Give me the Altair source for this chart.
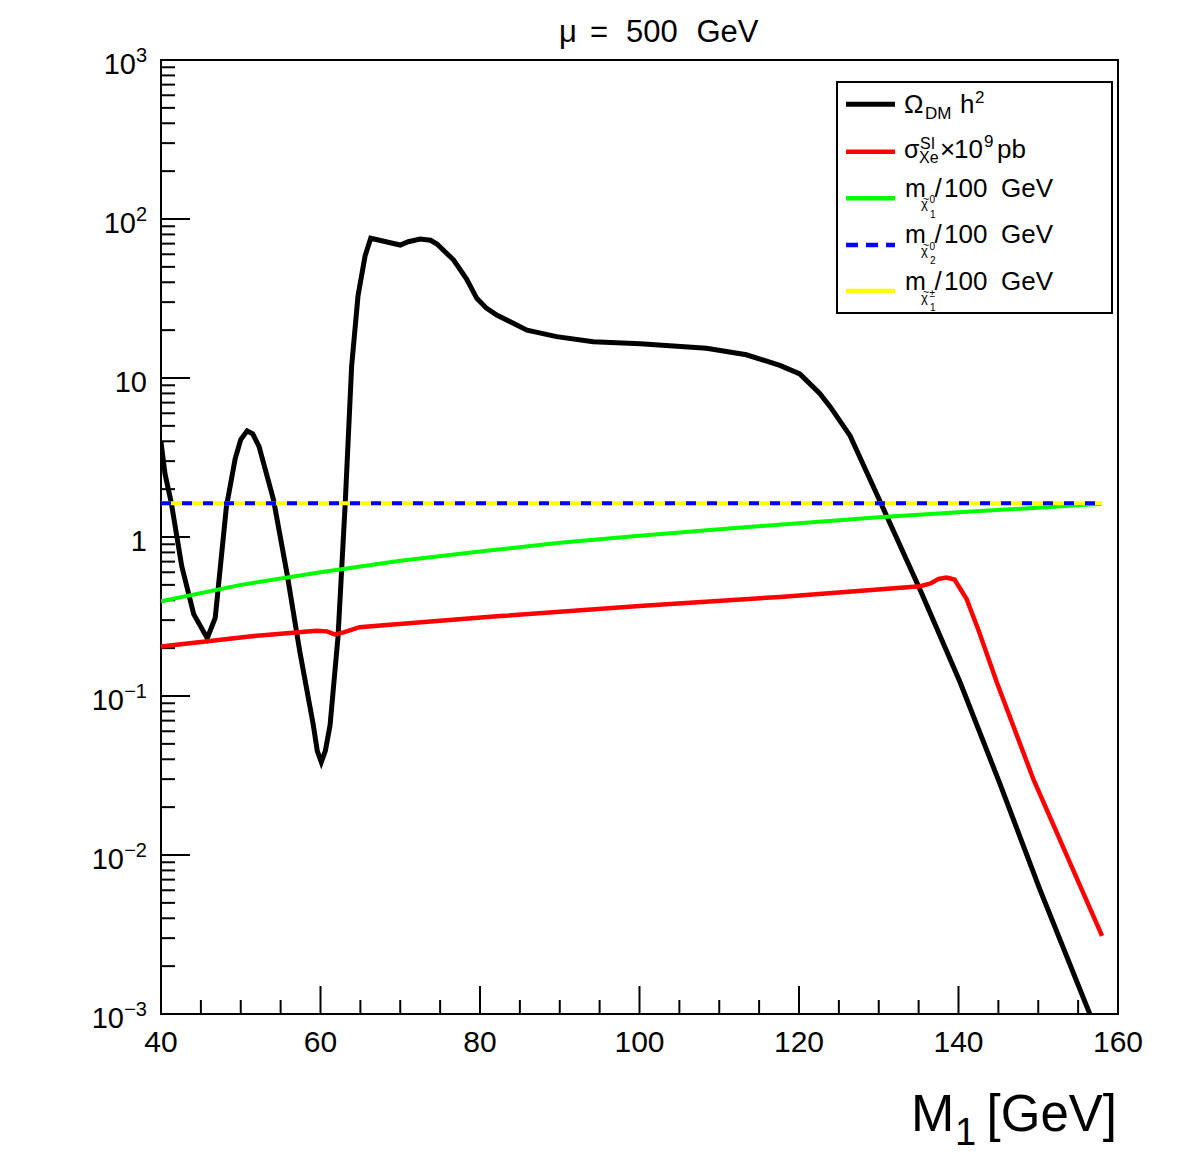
import altair as alt
import pandas as pd

# ---------------- data ----------------
# Omega_DM h^2  (black)
om_m1 = [40.0, 40.5, 41.3, 42.6, 44.1, 45.8, 46.8, 48.2, 49.3, 50.0,
         50.8, 51.5, 52.3, 54.1, 55.8, 57.4, 59.1, 59.6, 60.1, 60.6,
         61.2, 62.2, 63.1, 63.9, 64.7, 65.6, 66.3, 70.0, 71.0, 72.5,
         73.8, 74.6, 76.7, 78.3, 79.6, 80.8, 82.1, 85.9, 89.6, 94.2,
         100.1, 108.4, 113.4, 117.6, 120.1, 122.6, 123.9, 126.4, 130.2, 135.2,
         140.2, 145.2, 150.2, 156.5, 158.0]
om_val = [3.95, 2.5, 1.63, 0.656, 0.327, 0.231, 0.31, 1.55, 3.1, 4.1,
          4.65, 4.45, 3.7, 1.72, 0.59, 0.191, 0.0656, 0.045, 0.0384, 0.045,
          0.0656, 0.237, 1.63, 11.8, 32.7, 58.9, 75.6, 68.6, 72.0, 74.8,
          73.5, 69.6, 55.2, 42.0, 31.7, 27.5, 24.9, 20.0, 18.2, 16.9,
          16.4, 15.4, 14.0, 12.0, 10.6, 8.0, 6.6, 4.34, 1.66, 0.464,
          0.122, 0.028, 0.00607, 0.00099, 0.00065]

# sigma_SI x 1e9 pb  (red)
si_m1 = [40.0, 51.1, 59.5, 60.8, 61.8, 63.0, 64.9, 67.9, 82.5, 100.0,
         117.6, 135.2, 136.5, 137.5, 138.5, 139.5, 141.0, 142.5, 144.8, 149.4,
         154.0, 158.0]
si_val = [0.205, 0.237, 0.257, 0.255, 0.244, 0.252, 0.271, 0.279, 0.318, 0.368,
          0.42, 0.49, 0.51, 0.545, 0.556, 0.54, 0.409, 0.26, 0.122, 0.0299,
          0.0089, 0.0031]

# m_chi1 / 100 GeV  (green)
n1_m1 = [40, 50, 60, 70, 80, 90, 100, 110, 120, 130, 140, 150, 158]
n1_val = [0.394, 0.50, 0.60, 0.71, 0.81, 0.92, 1.02, 1.12, 1.22, 1.33, 1.43, 1.53, 1.62]

# m_chi2 / 100 GeV  (blue dashed)
n2_m1 = [40, 158]
n2_val = [1.63, 1.63]

# m_chargino / 100 GeV  (yellow)
c1_m1 = [40, 158]
c1_val = [1.63, 1.63]

x_major = [40, 60, 80, 100, 120, 140, 160]
x_labels = ["40", "60", "80", "100", "120", "140", "160"]
x_minor = [v for v in range(40, 161, 5) if v % 20 != 0]

y_major = [1e-3, 1e-2, 1e-1, 1, 10, 100, 1000]
y_base = ["10", "10", "10", "1", "10", "10", "10"]
y_exp = ["\u22123", "\u22122", "\u22121", "", "", "2", "3"]
y_minor = [k * 10.0 ** n for n in range(-3, 3) for k in range(2, 10)]

# ---------------- layout ----------------
W, H = 957, 954
FONT = "Liberation Sans"
xs = alt.Scale(domain=[40, 160], nice=False, zero=False)
ys = alt.Scale(type="log", domain=[1e-3, 1e3], nice=False)
one = pd.DataFrame({"k": [0]})


def series(xv, yv, color, width, dash=None):
    df = pd.DataFrame({"M1": xv, "v": yv})
    kw = dict(color=color, strokeWidth=width, clip=True)
    if dash:
        kw["strokeDash"] = dash
    return alt.Chart(df).mark_line(**kw).encode(
        x=alt.X("M1:Q", scale=xs, axis=None),
        y=alt.Y("v:Q", scale=ys, axis=None),
        order=alt.Order("M1:Q"),
    )


def txt(s, x, y, size, align="left", font=FONT):
    return alt.Chart(one).mark_text(
        text=s, align=align, baseline="alphabetic", fontSize=size, font=font, color="black"
    ).encode(x=alt.value(x), y=alt.value(y))


layers = []

# ticks (inward, ROOT style)
ymaj = pd.DataFrame({"t": y_major})
ymin = pd.DataFrame({"t": y_minor})
xmaj = pd.DataFrame({"t": x_major, "lab": x_labels})
xmin = pd.DataFrame({"t": x_minor})
layers.append(alt.Chart(ymaj).mark_rule(color="black", strokeWidth=2).encode(
    y=alt.Y("t:Q", scale=ys, axis=None), x=alt.value(0), x2=alt.value(29)))
layers.append(alt.Chart(ymin).mark_rule(color="black", strokeWidth=2).encode(
    y=alt.Y("t:Q", scale=ys, axis=None), x=alt.value(0), x2=alt.value(14)))
layers.append(alt.Chart(xmaj).mark_rule(color="black", strokeWidth=2).encode(
    x=alt.X("t:Q", scale=xs, axis=None), y=alt.value(H), y2=alt.value(H - 28)))
layers.append(alt.Chart(xmin).mark_rule(color="black", strokeWidth=2).encode(
    x=alt.X("t:Q", scale=xs, axis=None), y=alt.value(H), y2=alt.value(H - 14)))

# x tick labels
layers.append(alt.Chart(xmaj).mark_text(
    align="center", baseline="alphabetic", fontSize=30, font=FONT, color="black"
).encode(x=alt.X("t:Q", scale=xs, axis=None), y=alt.value(H + 38), text="lab:N"))

# y tick labels: base "10"/"1" and superscript exponent
ylab = pd.DataFrame({"t": y_major, "base": y_base, "exp": y_exp})
ylab["n"] = ylab["exp"].str.len()
for n, xr in [(0, -14), (1, -25), (2, -37)]:
    sub = ylab[ylab["n"] == n]
    layers.append(alt.Chart(sub).mark_text(
        align="right", baseline="alphabetic", fontSize=29, font=FONT, color="black", dy=13.5
    ).encode(y=alt.Y("t:Q", scale=ys, axis=None), x=alt.value(xr), text="base:N"))
layers.append(alt.Chart(ylab[ylab["n"] > 0]).mark_text(
    align="right", baseline="alphabetic", fontSize=20, font=FONT, color="black", dy=1.5
).encode(y=alt.Y("t:Q", scale=ys, axis=None), x=alt.value(-14), text="exp:N"))

# curves
layers.append(series(om_m1, om_val, "black", 5))
layers.append(series(si_m1, si_val, "#ff0000", 4.5))
layers.append(series(n1_m1, n1_val, "#00ff00", 4))
layers.append(series(c1_m1, c1_val, "#ffff00", 4))
layers.append(series(n2_m1, n2_val, "#0000ff", 4, dash=[10, 11]))

# title  "mu = 500 GeV"
TB = -18.3
layers += [txt("\u03bc", 398, TB, 31), txt("=", 429, TB, 31),
           txt("500", 465, TB, 31), txt("GeV", 535.5, TB, 31)]

# x axis title  "M_1 [GeV]"
layers += [txt("M", 750, 1071, 52), txt("1", 794, 1085, 38),
           txt("[GeV]", 956, 1071, 51, align="right")]

# legend box
layers.append(alt.Chart(one).mark_rect(fill="white", stroke="black", strokeWidth=2).encode(
    x=alt.value(676), x2=alt.value(951), y=alt.value(22), y2=alt.value(253)))

leg_y = [44.3, 91.7, 138.3, 185.0, 231.0]
leg_col = ["black", "#ff0000", "#00ff00", "#0000ff", "#ffff00"]
for i, (yy, cc) in enumerate(zip(leg_y, leg_col)):
    kw = dict(color=cc, strokeWidth=5 if i == 0 else 4.5)
    if i == 3:
        kw["strokeDash"] = [12, 8]
    layers.append(alt.Chart(one).mark_rule(**kw).encode(
        x=alt.value(685), x2=alt.value(734), y=alt.value(yy)))

# entry 1: Omega_DM h^2
B1 = 53.3
layers += [txt("\u03a9", 743, B1, 26), txt("DM", 764, B1 + 6, 17),
           txt("h", 799, B1, 26), txt("2", 814, B1 - 10, 17)]
# entry 2: sigma^SI_Xe x 10^9 pb
B2 = 98.3
layers += [txt("\u03c3", 743, B2, 25), txt("SI", 759, B2 - 9.6, 16),
           txt("Xe", 758, B2 + 5, 16), txt("\u00d7", 779, B2, 26),
           txt("10", 793, B2, 26), txt("9", 823, B2 - 11, 17),
           txt("pb", 836, B2, 26)]
# entries 3-5: m_chi / 100 GeV
sups = ["0", "0", "\u00b1"]
subs = ["1", "2", "1"]
for B, sp, sb in zip([136.7, 183.3, 230.0], sups, subs):
    layers += [txt("m", 744, B, 25),
               txt("\u03c7", 760, B + 11.5, 13),
               txt("~", 765, B + 6, 11, align="center"),
               txt(sp, 768.5, B + 6.5, 10),
               txt(sb, 769, B + 21, 10),
               txt("/", 777, B, 26, align="center"),
               txt("100", 783, B, 26),
               txt("GeV", 840, B, 26)]

chart = alt.layer(*layers).properties(
    width=W, height=H,
    autosize="none",
    padding={"left": 153, "top": 52, "right": 60, "bottom": 140},
    background="white",
).configure_view(stroke="black", strokeWidth=2)

chart.save("out.html", embed_options={"renderer": "svg", "actions": False})
